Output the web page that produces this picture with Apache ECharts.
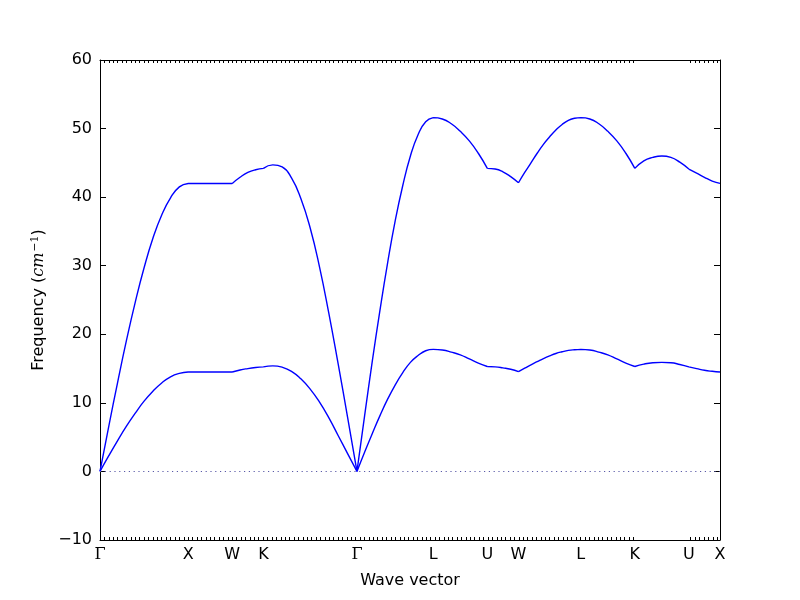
<!DOCTYPE html>
<html><head><meta charset="utf-8">
<script src="https://cdn.jsdelivr.net/npm/echarts@6/dist/echarts.min.js"></script>
<style>html,body{margin:0;padding:0;background:#fff}#c{width:800px;height:600px}</style>
</head><body><div id="c"></div>
<script>
// High-symmetry points along the path (path distance, units of 2π/a)
const hsymPos = [0, 1, 1.5, 1.8536, 2.9143, 3.7803, 4.3927, 4.7463, 5.4534, 6.0658, 6.6782, 7.0318];
const hsymLabels = ['Γ','X','W','K','Γ','L','U','W','L','K','U','X'];
const yTicks = [-10, 0, 10, 20, 30, 40, 50, 60];

// Frequencies sampled evenly along each segment (cm^-1)
const upperBand = [
  [0, 6.6, 13.0, 19.1, 24.7, 29.7, 34.0, 37.4, 39.9, 41.5, 42.0],
  [42.0, 42.0, 42.0],
  [42.0, 42.9, 43.6, 44.0, 44.2],
  [44.2, 44.7, 44.4, 42.8, 39.8, 35.5, 29.8, 23.0, 15.6, 7.9, 0],
  [0, 8.1, 16.0, 23.4, 30.3, 36.5, 41.7, 46.0, 49.1, 51.0, 51.6],
  [51.6, 51.4, 50.7, 49.6, 48.2, 46.4, 44.2],
  [44.2, 44.1, 43.7, 43.0, 42.1],
  [42.1, 43.6, 45.0, 46.4, 47.7, 48.8, 49.8, 50.6, 51.2, 51.5, 51.6],
  [51.6, 51.4, 50.7, 49.6, 48.2, 46.4, 44.2],
  [44.2, 45.3, 45.8, 46.0, 45.8, 45.1, 44.1],
  [44.1, 43.5, 42.9, 42.35, 42.0]
];
const lowerBand = [
  [0, 2.3, 4.5, 6.6, 8.5, 10.25, 11.7, 12.9, 13.8, 14.3, 14.5],
  [14.5, 14.5, 14.5],
  [14.5, 14.8, 15.0, 15.15, 15.25],
  [15.25, 15.4, 15.2, 14.6, 13.5, 12.0, 10.1, 7.8, 5.2, 2.6, 0],
  [0, 2.8, 5.5, 8.1, 10.5, 12.6, 14.4, 15.9, 16.9, 17.6, 17.8],
  [17.8, 17.7, 17.4, 17.0, 16.4, 15.8, 15.3],
  [15.3, 15.25, 15.1, 14.9, 14.55],
  [14.55, 15.05, 15.55, 16.0, 16.45, 16.85, 17.2, 17.45, 17.65, 17.75, 17.8],
  [17.8, 17.7, 17.4, 17.0, 16.4, 15.8, 15.3],
  [15.3, 15.65, 15.85, 15.9, 15.85, 15.6, 15.25],
  [15.25, 15.0, 14.75, 14.6, 14.5]
];

function buildBand(band) {
  const out = [];
  band.forEach((vals, s) => {
    const a = hsymPos[s], b = hsymPos[s + 1], n = vals.length - 1;
    vals.forEach((v, j) => out.push([a + (b - a) * j / n, v]));
    if (s < band.length - 1) out.push([b, '-']);
  });
  return out;
}

// q-point tick marks along the path (none on the K–U jump segment)
const qTicks = [];
for (let k = 0; k * 0.05 <= hsymPos[11] + 1e-9; k++) {
  const v = +(k * 0.05).toFixed(4);
  if (v > hsymPos[9] + 0.01 && v < hsymPos[10] - 0.01) continue;
  qTicks.push(v);
}

const FONT = 'DejaVu Sans';
const xMax = hsymPos[hsymPos.length - 1];
const chart = echarts.init(document.getElementById('c'), null, {renderer: 'canvas'});
const baseX = {
  type: 'value', min: 0, max: xMax,
  axisLine: {show: true, onZero: false, lineStyle: {color: '#000', width: 1}},
  splitLine: {show: false},
  axisTick: {show: true, inside: true, length: 3, customValues: qTicks, lineStyle: {color: '#000', width: 1}}
};
const baseY = {
  type: 'value', min: -10, max: 60, interval: 10,
  axisLine: {show: true, onZero: false, lineStyle: {color: '#000', width: 1}},
  splitLine: {show: false},
  axisTick: {show: true, inside: true, length: 6, lineStyle: {color: '#000', width: 1}}
};
chart.setOption({
  animation: false,
  backgroundColor: '#fff',
  grid: {left: 100, right: 80, top: 60, bottom: 60, containLabel: false},
  xAxis: [
    Object.assign({}, baseX, {
      position: 'bottom',
      name: 'Wave vector', nameLocation: 'middle', nameGap: 33,
      nameTextStyle: {fontFamily: FONT, fontSize: 16, color: '#000'},
      axisLabel: {
        show: true, customValues: hsymPos, margin: 7,
        fontFamily: FONT, fontSize: 16, color: '#000',
        formatter: function (v) {
          let best = 0;
          hsymPos.forEach((p, i) => { if (Math.abs(p - v) < Math.abs(hsymPos[best] - v)) best = i; });
          const l = hsymLabels[best];
          return l === 'Γ' ? '{g|Γ}' : l;
        },
        rich: {g: {fontFamily: 'DejaVu Serif', fontSize: 16, color: '#000'}}
      }
    }),
    Object.assign({}, baseX, {position: 'top', axisLabel: {show: false}})
  ],
  yAxis: [
    Object.assign({}, baseY, {
      position: 'left',
      name: '{a|Frequency (}{i|cm}{s|−1}{a|)}', nameLocation: 'middle', nameGap: 50, nameRotate: 90,
      nameTextStyle: {
        fontFamily: FONT, fontSize: 16, color: '#000',
        rich: {
          a: {fontFamily: FONT, fontSize: 16, color: '#000'},
          i: {fontFamily: 'DejaVu Serif', fontStyle: 'italic', fontSize: 16, color: '#000'},
          s: {fontFamily: 'DejaVu Serif', fontSize: 11, color: '#000', padding: [0, 0, 9, 1]}
        }
      },
      axisLabel: {
        show: true, margin: 8, fontFamily: FONT, fontSize: 16, color: '#000',
        customValues: yTicks,
        formatter: v => String(v).replace('-', '−')
      }
    }),
    Object.assign({}, baseY, {position: 'right', axisLabel: {show: false}})
  ],
  series: [
    {
      type: 'line', name: 'upper', xAxisIndex: 0, yAxisIndex: 0,
      data: buildBand(upperBand), showSymbol: false, symbol: 'none', smooth: 0.5,
      connectNulls: false, lineStyle: {color: '#0000ff', width: 1.4}, z: 3,
      markLine: {
        silent: true, symbol: ['none', 'none'], label: {show: false},
        lineStyle: {color: '#5a5aa8', width: 1, type: [1.2, 3.6]},
        data: [{yAxis: 0}]
      }
    },
    {
      type: 'line', name: 'lower', xAxisIndex: 0, yAxisIndex: 0,
      data: buildBand(lowerBand), showSymbol: false, symbol: 'none', smooth: 0.5,
      connectNulls: false, lineStyle: {color: '#0000ff', width: 1.4}, z: 3
    }
  ]
});
</script></body></html>
